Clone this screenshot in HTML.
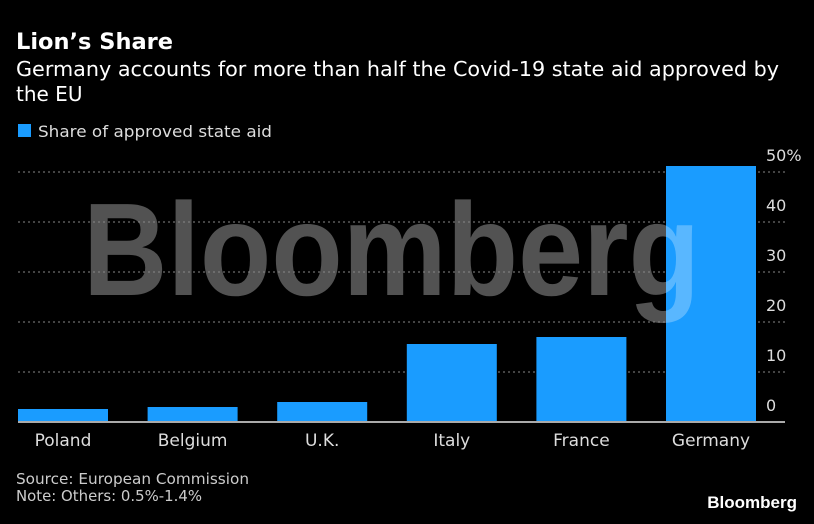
<!DOCTYPE html>
<html><head><meta charset="utf-8"><style>
body{margin:0;background:#000;width:814px;height:520px;overflow:hidden;font-family:"DejaVu Sans",sans-serif;color:#fff}
</style></head><body>
<svg width="814" height="520" xmlns="http://www.w3.org/2000/svg" font-family="DejaVu Sans, sans-serif">
<text x="16" y="49" font-size="22" font-weight="bold" fill="#fff" textLength="157" lengthAdjust="spacingAndGlyphs">Lion’s Share</text>
<text x="16" y="76" font-size="20" fill="#fff" textLength="763" lengthAdjust="spacingAndGlyphs">Germany accounts for more than half the Covid-19 state aid approved by</text>
<text x="16" y="101" font-size="20" fill="#fff">the EU</text>
<rect x="18" y="124" width="13" height="13" fill="#1a9cff"/>
<text x="38" y="137" font-size="16" fill="#ddd" textLength="234" lengthAdjust="spacingAndGlyphs">Share of approved state aid</text>
<text x="83" y="295" font-size="132" font-weight="bold" font-family="Liberation Sans, sans-serif" fill="#fff" fill-opacity="0.32" textLength="617" lengthAdjust="spacingAndGlyphs">Bloomberg</text>
<g id="grid"></g>
<g id="bars"></g>
<text x="83" y="295" font-size="132" font-weight="bold" font-family="Liberation Sans, sans-serif" fill="#fff" fill-opacity="0.28" textLength="617" lengthAdjust="spacingAndGlyphs" clip-path="url(#gclip)">Bloomberg</text>
<defs><clipPath id="gclip"><rect x="666" y="100" width="90" height="322"/></clipPath></defs>
<g id="labels"></g>
<text x="16" y="484" font-size="15" fill="#ccc" textLength="233" lengthAdjust="spacingAndGlyphs">Source: European Commission</text>
<text x="16" y="501" font-size="15" fill="#ccc" textLength="186" lengthAdjust="spacingAndGlyphs">Note: Others: 0.5%-1.4%</text>
<text x="797" y="508" font-size="17" font-weight="bold" font-family="Liberation Sans, sans-serif" fill="#fff" text-anchor="end">Bloomberg</text>
</svg>
<script>
const categories=["Poland","Belgium","U.K.","Italy","France","Germany"];
const values=[2.6,3.0,4.0,15.6,17.0,51.2];
const ticks=[0,10,20,30,40,50];
const tickLabels=["0","10","20","30","40","50%"];
const NS="http://www.w3.org/2000/svg";
const y=v=>422-v*5;
const x=i=>18+i*129.6;
const bw=90;
function mk(t,a,p){const e=document.createElementNS(NS,t);for(const k in a)e.setAttribute(k,a[k]);p.appendChild(e);return e;}
const grid=document.getElementById('grid'),bars=document.getElementById('bars'),labels=document.getElementById('labels');
ticks.forEach((t,i)=>{
  if(t>0){const l=mk('line',{x1:18,x2:785,y1:y(t),y2:y(t),stroke:'#888','stroke-dasharray':'2 3','stroke-width':1},grid);
  
  }
  const tx=mk('text',{x:766,y:y(t)-11,'font-size':16,fill:'#ddd'},labels);
  tx.textContent=tickLabels[i];
  
  
});
categories.forEach((c,i)=>{
  const r=mk('rect',{x:x(i),y:y(values[i]),width:bw,height:422-y(values[i]),fill:'#1a9cff'},bars);
  
  
  const t=mk('text',{x:x(i)+bw/2,y:446,'font-size':17,fill:'#ddd','text-anchor':'middle'},labels);
  t.textContent=c;
  
  
});
const ax=mk('line',{x1:18,x2:785,y1:422,y2:422,stroke:'#aaa','stroke-width':2},labels);


</script>
</body></html>
